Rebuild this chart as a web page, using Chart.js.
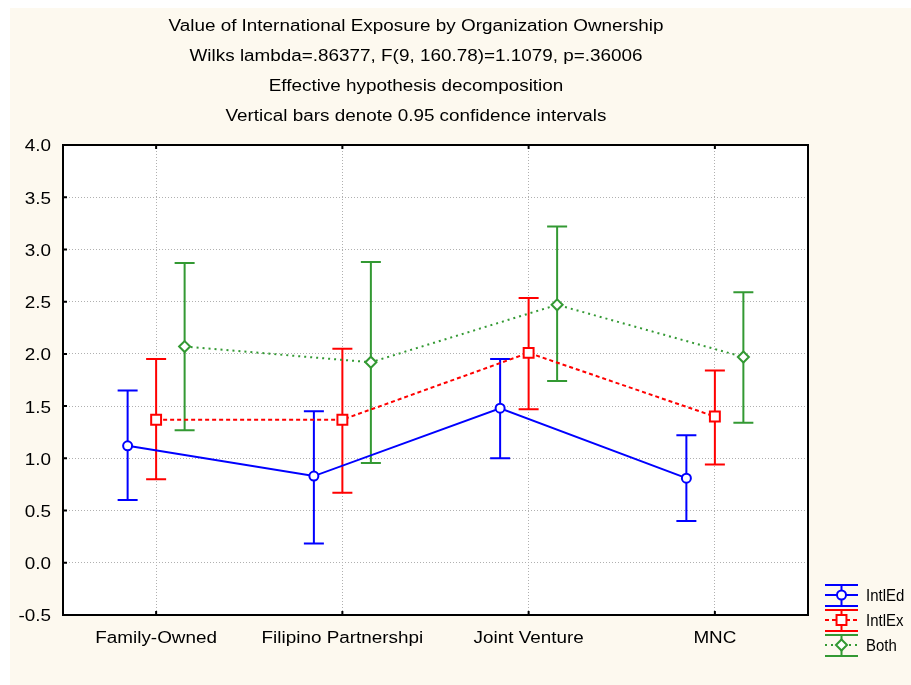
<!DOCTYPE html>
<html>
<head>
<meta charset="utf-8">
<script src="https://cdn.jsdelivr.net/npm/chart.js@4.4.1/dist/chart.umd.min.js"></script>
<style>
  html, body { margin: 0; padding: 0; background: #ffffff; }
  #wrap { position: absolute; left: 0; top: 0; width: 911px; height: 685px; }
</style>
</head>
<body>
<div id="wrap"><canvas id="meansChart" width="911" height="685"></canvas></div>
<script>
const categories = ['Family-Owned', 'Filipino Partnershpi', 'Joint Venture', 'MNC'];
const yTicks = [-0.5, 0.0, 0.5, 1.0, 1.5, 2.0, 2.5, 3.0, 3.5, 4.0];

const intlEdMean = [1.12, 0.83, 1.48, 0.81];
const intlEdLow  = [0.60, 0.185, 1.00, 0.40];
const intlEdHigh = [1.65, 1.45, 1.95, 1.22];

const intlExMean = [1.37, 1.37, 2.01, 1.40];
const intlExLow  = [0.80, 0.67, 1.47, 0.94];
const intlExHigh = [1.95, 2.05, 2.535, 1.84];

const bothMean = [2.07, 1.92, 2.47, 1.97];
const bothLow  = [1.27, 0.955, 1.74, 1.34];
const bothHigh = [2.87, 2.88, 3.22, 2.59];

const titleLines = [
    'Value of International Exposure by Organization Ownership',
    'Wilks lambda=.86377, F(9, 160.78)=1.1079, p=.36006',
    'Effective hypothesis decomposition',
    'Vertical bars denote 0.95 confidence intervals'
];

const FAMILY = '"Liberation Sans", Arial, sans-serif';
const BLUE = '#0000ff';
const RED = '#ff0000';
const GREEN = '#339933';

// each series is nudged sideways inside its category
function series(label, means, lows, highs, shift, color, dash, pointStyle, radius) {
    return {
        label: label,
        data: means.map((m, i) => ({ x: i + shift, y: m, lo: lows[i], hi: highs[i] })),
        borderColor: color,
        backgroundColor: '#ffffff',
        borderWidth: 2,
        borderDash: dash,
        pointStyle: pointStyle,
        pointRadius: radius,
        pointBorderWidth: 2,
        pointBorderColor: color,
        pointBackgroundColor: '#ffffff',
        tension: 0,
        fill: false
    };
}

const datasets = [
    series('IntlEd', intlEdMean, intlEdLow, intlEdHigh, -0.153, BLUE, [], 'circle', 4.5),
    series('IntlEx', intlExMean, intlExLow, intlExHigh, 0, RED, [4, 3], 'rect', 7),
    series('Both', bothMean, bothLow, bothHigh, 0.153, GREEN, [2, 4], 'rectRot', 5.5)
];

// text with an optional horizontal stretch (wide screen-style lettering)
function putText(ctx, text, x, y, align, size, stretch) {
    ctx.save();
    ctx.translate(x, y + 2);
    ctx.scale(stretch, 1);
    ctx.fillStyle = '#000000';
    ctx.font = size + 'px ' + FAMILY;
    ctx.textAlign = align;
    ctx.textBaseline = 'middle';
    ctx.fillText(text, 0, 0);
    ctx.restore();
}

function drawErrorBar(ctx, x, yLo, yHi, half, color) {
    ctx.save();
    ctx.strokeStyle = color;
    ctx.lineWidth = 2;
    ctx.setLineDash([]);
    ctx.beginPath();
    ctx.moveTo(x, yLo); ctx.lineTo(x, yHi);
    ctx.moveTo(x - half, yLo); ctx.lineTo(x + half, yLo);
    ctx.moveTo(x - half, yHi); ctx.lineTo(x + half, yHi);
    ctx.stroke();
    ctx.restore();
}

const panelPlugin = {
    id: 'panel',
    beforeDraw(chart) {
        const ctx = chart.ctx;
        const a = chart.chartArea;
        ctx.save();
        ctx.fillStyle = '#ffffff';
        ctx.fillRect(0, 0, chart.width, chart.height);
        ctx.fillStyle = '#fdf9ef';
        ctx.fillRect(10, 8, chart.width - 10, chart.height - 8);
        ctx.fillStyle = '#ffffff';
        ctx.fillRect(a.left, a.top, a.right - a.left, a.bottom - a.top);
        ctx.restore();

        titleLines.forEach((t, i) => putText(ctx, t, 416, 25 + i * 30, 'center', 16, 1.18));
    },
    beforeDatasetsDraw(chart) {
        const ctx = chart.ctx;
        const xs = chart.scales.x, ys = chart.scales.y;
        chart.data.datasets.forEach(ds => {
            ds.data.forEach(p => {
                drawErrorBar(ctx, xs.getPixelForValue(p.x), ys.getPixelForValue(p.lo),
                    ys.getPixelForValue(p.hi), 10, ds.borderColor);
            });
        });
    },
    afterDraw(chart) {
        const ctx = chart.ctx;
        const a = chart.chartArea;
        const xs = chart.scales.x, ys = chart.scales.y;
        ctx.save();
        ctx.strokeStyle = '#000000';
        ctx.lineWidth = 2;
        ctx.setLineDash([]);
        ctx.strokeRect(a.left, a.top, a.right - a.left, a.bottom - a.top);
        // inward tick marks
        ctx.beginPath();
        yTicks.forEach(v => {
            const y = ys.getPixelForValue(v);
            ctx.moveTo(a.left, y); ctx.lineTo(a.left + 4, y);
        });
        categories.forEach((c, i) => {
            const x = xs.getPixelForValue(i);
            ctx.moveTo(x, a.bottom); ctx.lineTo(x, a.bottom - 4);
            ctx.moveTo(x, a.top); ctx.lineTo(x, a.top + 4);
        });
        ctx.stroke();
        ctx.restore();

        // axis labels
        yTicks.forEach(v => putText(ctx, v.toFixed(1), 51, ys.getPixelForValue(v), 'right', 16, 1.18));
        categories.forEach((c, i) => putText(ctx, c, xs.getPixelForValue(i), a.bottom + 22, 'center', 16, 1.18));

        // legend
        const lx = 825, lw = 33;
        chart.data.datasets.forEach((ds, i) => {
            const cy = 595 + i * 25;
            drawErrorBar(ctx, lx + lw / 2, cy - 10, cy + 11, lw / 2, ds.borderColor);
            ctx.save();
            ctx.strokeStyle = ds.borderColor;
            ctx.lineWidth = 2;
            ctx.setLineDash(ds.borderDash);
            ctx.beginPath();
            ctx.moveTo(lx, cy); ctx.lineTo(lx + lw, cy);
            ctx.stroke();
            ctx.setLineDash([]);
            ctx.fillStyle = '#ffffff';
            Chart.helpers.drawPoint(ctx, {
                pointStyle: ds.pointStyle, radius: ds.pointRadius, borderWidth: 2, rotation: 0
            }, lx + lw / 2, cy);
            ctx.restore();
            putText(ctx, ds.label, 866, cy - 1, 'left', 17, 0.88);
        });
    }
};

new Chart(document.getElementById('meansChart').getContext('2d'), {
    type: 'line',
    data: { datasets: datasets },
    plugins: [panelPlugin],
    options: {
        responsive: false,
        animation: false,
        layout: { padding: { top: 145, right: 103, left: 0, bottom: 0 } },
        plugins: {
            legend: { display: false },
            title: { display: false },
            tooltip: { enabled: false }
        },
        scales: {
            x: {
                type: 'linear',
                min: -0.5,
                max: 3.5,
                afterFit: s => { s.height = 70; },
                afterBuildTicks: s => { s.ticks = categories.map((c, i) => ({ value: i })); },
                ticks: { display: false },
                grid: { color: '#b0b0b0', lineWidth: 1, drawTicks: false },
                border: { display: false, dash: [1, 2] }
            },
            y: {
                min: -0.5,
                max: 4.0,
                afterFit: s => { s.width = 63; },
                afterBuildTicks: s => { s.ticks = yTicks.map(v => ({ value: v })); },
                ticks: { display: false },
                grid: { color: '#b0b0b0', lineWidth: 1, drawTicks: false },
                border: { display: false, dash: [1, 2] }
            }
        }
    }
});
</script>
</body>
</html>
